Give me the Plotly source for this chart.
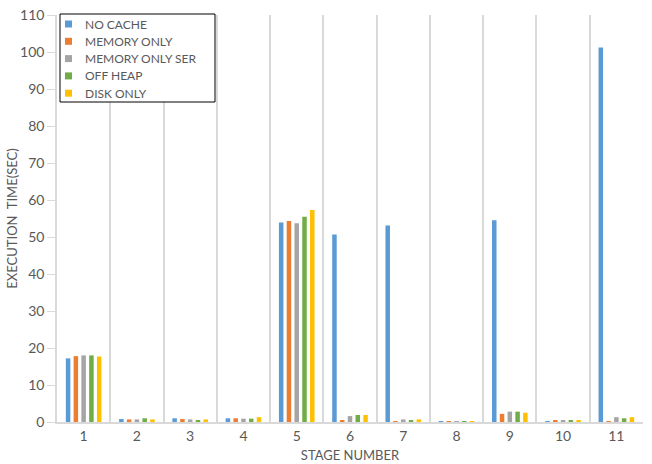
import plotly.graph_objects as go

stages = ["1", "2", "3", "4", "5", "6", "7", "8", "9", "10", "11"]
no_cache = [17.2, 0.8, 1.0, 1.0, 53.9, 50.7, 53.1, 0.1, 54.5, 0.1, 101.2]
memory_only = [17.8, 0.7, 0.8, 1.0, 54.3, 0.4, 0.1, 0.1, 2.2, 0.4, 0.1]
memory_only_ser = [18.0, 0.7, 0.7, 0.9, 53.7, 1.6, 0.7, 0.1, 2.8, 0.4, 1.3]
off_heap = [18.0, 1.0, 0.4, 0.9, 55.5, 1.9, 0.4, 0.1, 2.8, 0.4, 1.0]
disk_only = [17.7, 0.7, 0.7, 1.3, 57.3, 1.9, 0.7, 0.1, 2.5, 0.4, 1.3]

series = [
    ("NO CACHE", no_cache, "#5B9BD5"),
    ("MEMORY ONLY", memory_only, "#ED7D31"),
    ("MEMORY ONLY SER", memory_only_ser, "#A5A5A5"),
    ("OFF HEAP", off_heap, "#70AD47"),
    ("DISK ONLY", disk_only, "#FFC000"),
]

W, H = 652, 464
ML, MR, MT, MB = 57, 9, 15, 42
PW, PH = W - ML - MR, H - MT - MB


def px_x(x):
    return (x - ML) / PW


def px_y(y):
    return 1 - (y - MT) / PH


fig = go.Figure()
for name, vals, color in series:
    fig.add_trace(go.Bar(x=stages, y=vals, name=name, marker_color=color,
                         marker_line_width=0, showlegend=False))

text_color = "#595959"
grid_color = "#D9D9D9"

# Legend box drawn in the top-left corner of the plot area
shapes = [dict(type="rect", xref="paper", yref="paper",
               x0=px_x(60), x1=px_x(215), y0=px_y(102), y1=px_y(14),
               line=dict(color="black", width=1), fillcolor="white", layer="above")]
annotations = []
for i, (name, _, color) in enumerate(series):
    cy = 24 + i * 17.3
    shapes.append(dict(type="rect", xref="paper", yref="paper",
                       x0=px_x(65), x1=px_x(72), y0=px_y(cy + 3.5), y1=px_y(cy - 3.5),
                       line=dict(width=0), fillcolor=color, layer="above"))
    annotations.append(dict(xref="paper", yref="paper", x=px_x(83), y=px_y(cy),
                            xanchor="left", yanchor="middle", showarrow=False,
                            text=name, font=dict(size=12, color=text_color)))

fig.update_layout(
    width=W, height=H,
    margin=dict(l=ML, r=MR, t=MT, b=MB),
    paper_bgcolor="white", plot_bgcolor="white",
    font=dict(family="Lato, 'Open Sans', sans-serif", color=text_color, size=14),
    barmode="group", bargap=0.27, bargroupgap=0.42,
    showlegend=False,
    shapes=shapes, annotations=annotations,
    xaxis=dict(
        type="category", tickson="boundaries", showgrid=True,
        gridcolor=grid_color, gridwidth=1.5, automargin=False,
        showline=True, linecolor=grid_color, linewidth=1.5,
        ticks="", tickfont=dict(size=14),
        title=dict(text="STAGE NUMBER", font=dict(size=13), standoff=8),
    ),
    yaxis=dict(
        range=[0, 110], dtick=10, showgrid=False, zeroline=False, automargin=False,
        showline=True, linecolor=grid_color, linewidth=1.5,
        ticks="outside", ticklen=8, tickcolor=grid_color,
        tickfont=dict(size=14),
        title=dict(text="EXECUTION  TIME(SEC)", font=dict(size=13), standoff=0),
    ),
)

fig.write_html("out.html")
